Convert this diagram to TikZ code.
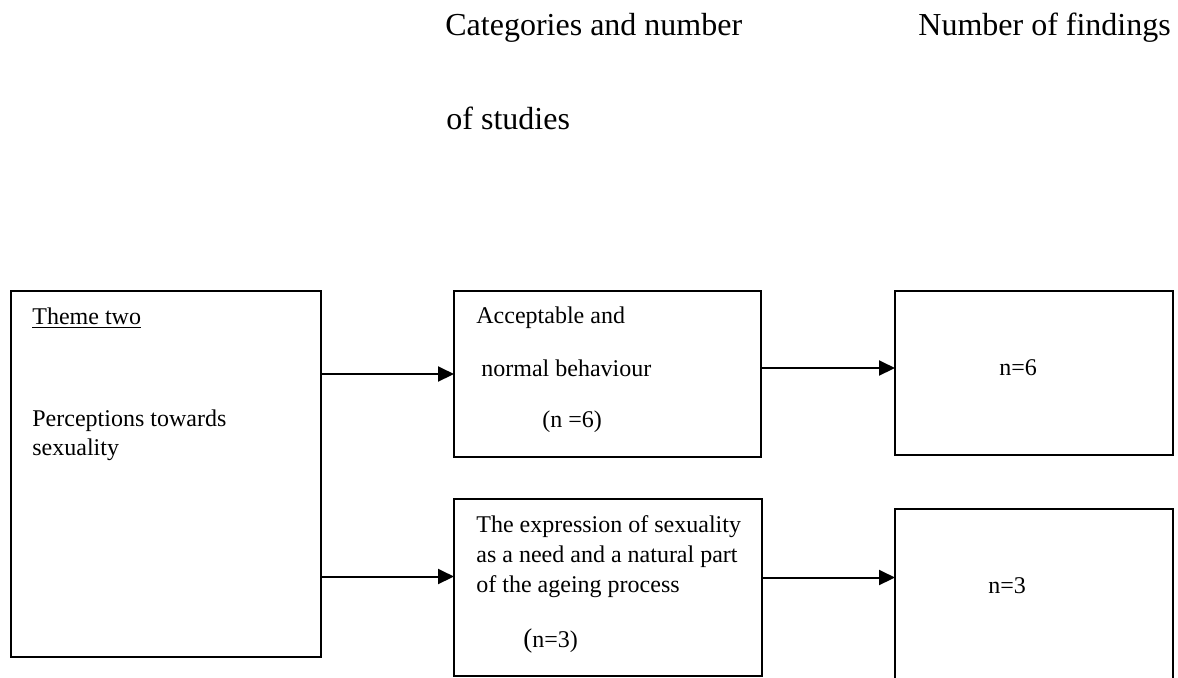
\documentclass[tikz,border=0pt]{standalone}
\usepackage{fontspec}
\setmainfont{Liberation Serif}
\usetikzlibrary{arrows.meta}
\tikzset{
  box/.style={draw, line width=1pt, inner sep=0pt, outer sep=0pt, anchor=north west},
  txt/.style={inner sep=0pt, anchor=base west, font=\fontsize{12}{14}\selectfont},
  heading/.style={inner sep=0pt, anchor=base west, font=\fontsize{16}{19}\selectfont},
  arr/.style={line width=1pt, -{Triangle[length=8pt,width=7.5pt]}}
}

\begin{document}
\begin{tikzpicture}[x=0.5pt,y=-0.5pt]
    \useasboundingbox (0,0) rectangle (1178,677);
    %Headings
    \node[heading] (headcat) at (445,35) {Categories and number};
    \node[heading] (headstud) at (446,129) {of studies};
    \node[heading] (headfind) at (918,35) {Number of findings};
    %Theme
    \node[box, minimum width=155pt, minimum height=183pt] (theme) at (11,291) {};
    \node[txt] (themetitle) at (32,324) {\underline{Theme two}};
    \node[txt] (themeone) at (32,426) {Perceptions towards};
    \node[txt] (themetwo) at (32,455) {sexuality};
    %Categories
    \node[box, minimum width=153.5pt, minimum height=83pt] (catA) at (454,291) {};
    \node[txt] (catAone) at (476,323) {Acceptable and};
    \node[txt] (catAtwo) at (481,376) {normal behaviour};
    \node[txt] (catAn) at (542,427) {(n =6)};
    \node[box, minimum width=154pt, minimum height=88.5pt] (catB) at (454,499) {};
    \node[txt] (catBone) at (476,532) {The expression of sexuality};
    \node[txt] (catBtwo) at (476,562) {as a need and a natural part};
    \node[txt] (catBthree) at (476,592) {of the ageing process};
    \node[txt] (catBn) at (523,647) {{\fontsize{13.5}{14}\selectfont(}n=3)};
    %Findings
    \node[box, minimum width=139pt, minimum height=82pt] (findA) at (895,291) {};
    \node[txt] (findAn) at (999,375) {n=6};
    \node[box, minimum width=139pt, minimum height=95.5pt] (findB) at (895,509) {};
    \node[txt] (findBn) at (988,593) {n=3};
    %Arrows
    \draw[arr] (theme.east |- catA.west) -- (catA.west);
    \draw[arr] ([yshift=5.5pt]catB.west -| theme.east) -- ([yshift=5.5pt]catB.west);
    \draw[arr] ([yshift=3pt]catA.east) -- ([yshift=3pt]catA.east -| findA.west);
    \draw[arr] ([yshift=5pt]catB.east) -- ([yshift=5pt]catB.east -| findB.west);
\end{tikzpicture}
\end{document}
